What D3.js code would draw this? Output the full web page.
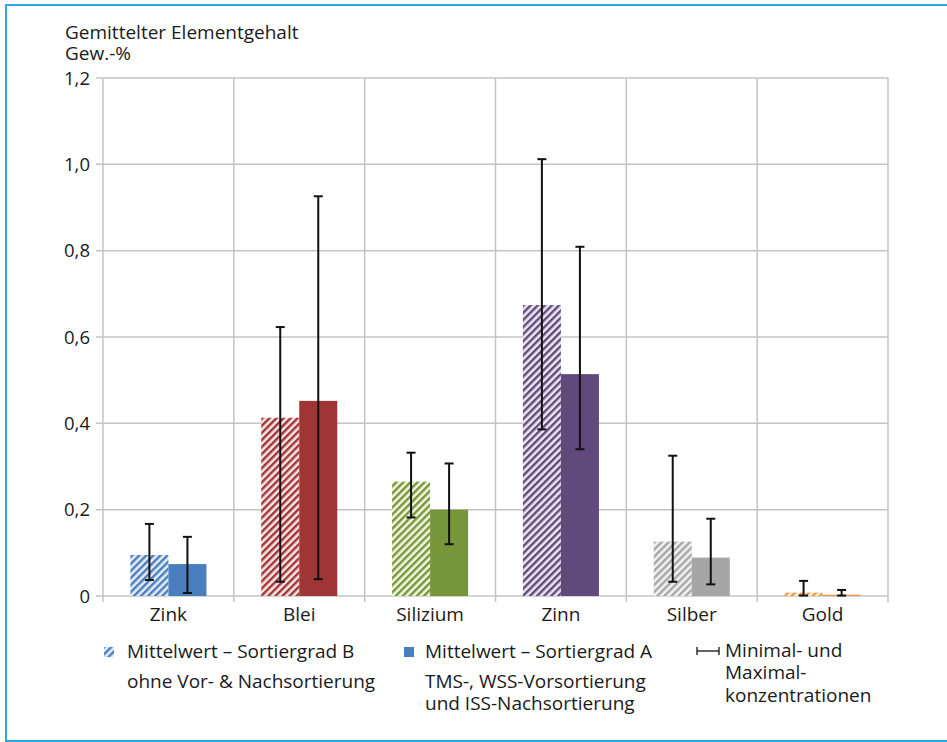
<!DOCTYPE html>
<html>
<head>
<meta charset="utf-8">
<script src="https://cdn.jsdelivr.net/npm/d3@7"></script>
<style>
  html, body { margin: 0; padding: 0; background: #fff; }
  svg { display: block; }
  text { font-family: "Open Sans", "Noto Sans", sans-serif; fill: #1a1a1a; }
</style>
</head>
<body>
<svg id="chart" width="947" height="742"></svg>
<script>
// ---- data ----
const categories = ["Zink", "Blei", "Silizium", "Zinn", "Silber", "Gold"];
const meanB = [0.095, 0.413, 0.265, 0.674, 0.126, 0.008];
const minB  = [0.037, 0.033, 0.182, 0.386, 0.033, 0.001];
const maxB  = [0.167, 0.623, 0.332, 1.012, 0.325, 0.035];
const meanA = [0.074, 0.452, 0.200, 0.514, 0.089, 0.003];
const minA  = [0.007, 0.039, 0.120, 0.340, 0.027, 0.001];
const maxA  = [0.137, 0.926, 0.307, 0.809, 0.179, 0.014];
const yTicks = [0, 0.2, 0.4, 0.6, 0.8, 1.0, 1.2];
const yTickLabels = ["0", "0,2", "0,4", "0,6", "0,8", "1,0", "1,2"];
const colors = ["#4a7ebf", "#a03535", "#77963a", "#604a7b", "#a6a6a6", "#e8994a"];
const hatchBg = ["#e4edf7", "#f7e4e4", "#f1f6e0", "#ebe6f1", "#f2f2f2", "#fcebd8"];

(function () {
const svg = d3.select("#chart");

// frame
svg.append("rect").attr("x", 6).attr("y", 5).attr("width", 960).attr("height", 736)
  .attr("fill", "none").attr("stroke", "#2aa9e0").attr("stroke-width", 2);

const pLeft = 103, pRight = 888, pTop = 78, pBottom = 596;
const x = d3.scaleBand().domain(categories).range([pLeft, pRight]).padding(0);
const sub = d3.scaleBand().domain(["B", "A"]).range([0, x.bandwidth()]).paddingInner(0).paddingOuter(0.72);
const y = d3.scaleLinear().domain([0, 1.2]).range([pBottom, pTop]);

// patterns
const defs = svg.append("defs");
colors.forEach((c, i) => {
  const p = defs.append("pattern").attr("id", "hatch" + i)
    .attr("patternUnits", "userSpaceOnUse").attr("width", 5).attr("height", 5)
    .attr("patternTransform", "rotate(45)");
  p.append("rect").attr("width", 5).attr("height", 5).attr("fill", hatchBg[i]);
  p.append("rect").attr("width", 2.4).attr("height", 5).attr("fill", c);
});

// grid
const grid = svg.append("g");
yTicks.forEach(t => {
  grid.append("line").attr("x1", pLeft - 7).attr("x2", pRight).attr("y1", y(t)).attr("y2", y(t))
    .attr("stroke", "#c4c4c4").attr("stroke-width", 1.5);
});
const bounds = categories.map(c => x(c)).concat([pRight]);
bounds.forEach(b => {
  grid.append("line").attr("x1", b).attr("x2", b).attr("y1", pTop).attr("y2", pBottom + 6)
    .attr("stroke", "#c4c4c4").attr("stroke-width", 1.5);
});

// y labels
svg.append("g").selectAll("text").data(yTicks).join("text")
  .attr("x", 90).attr("y", d => y(d)).attr("dy", "0.36em")
  .attr("text-anchor", "end").attr("font-size", 18.5)
  .text((d, i) => yTickLabels[i]);

// bars
const bars = svg.append("g");
categories.forEach((c, i) => {
  bars.append("rect").attr("x", x(c) + sub("B")).attr("y", y(meanB[i]))
    .attr("width", sub.bandwidth()).attr("height", y(0) - y(meanB[i]))
    .attr("fill", `url(#hatch${i})`);
  bars.append("rect").attr("x", x(c) + sub("A")).attr("y", y(meanA[i]))
    .attr("width", sub.bandwidth()).attr("height", y(0) - y(meanA[i]))
    .attr("fill", colors[i]);
});

// error bars
const err = svg.append("g").attr("stroke", "#111").attr("stroke-width", 2);
function errBar(cx, lo, hi) {
  err.append("line").attr("x1", cx).attr("x2", cx).attr("y1", y(lo)).attr("y2", y(hi));
  err.append("line").attr("x1", cx - 4.5).attr("x2", cx + 4.5).attr("y1", y(lo)).attr("y2", y(lo));
  err.append("line").attr("x1", cx - 4.5).attr("x2", cx + 4.5).attr("y1", y(hi)).attr("y2", y(hi));
}
categories.forEach((c, i) => {
  errBar(x(c) + sub("B") + sub.bandwidth() / 2, minB[i], maxB[i]);
  errBar(x(c) + sub("A") + sub.bandwidth() / 2, minA[i], maxA[i]);
});

// category labels
svg.append("g").selectAll("text").data(categories).join("text")
  .attr("x", d => x(d) + x.bandwidth() / 2).attr("y", 621)
  .attr("text-anchor", "middle").attr("font-size", 19).text(d => d);

// title
svg.append("text").attr("x", 65).attr("y", 39).attr("font-size", 19).text("Gemittelter Elementgehalt");
svg.append("text").attr("x", 65).attr("y", 60).attr("font-size", 19).text("Gew.-%");

// legend
const lg = svg.append("g").attr("font-size", 19);
lg.append("rect").attr("x", 104).attr("y", 647).attr("width", 10).attr("height", 10).attr("fill", "url(#hatch0)");
lg.append("text").attr("x", 127).attr("y", 658).text("Mittelwert – Sortiergrad B");
lg.append("text").attr("x", 127).attr("y", 688).text("ohne Vor- & Nachsortierung");

lg.append("rect").attr("x", 404).attr("y", 647).attr("width", 10).attr("height", 10).attr("fill", colors[0]);
lg.append("text").attr("x", 425).attr("y", 658).text("Mittelwert – Sortiergrad A");
lg.append("text").attr("x", 425).attr("y", 688).text("TMS-, WSS-Vorsortierung");
lg.append("text").attr("x", 425).attr("y", 710).text("und ISS-Nachsortierung");

const eg = lg.append("g").attr("stroke", "#111").attr("stroke-width", 1.3);
eg.append("line").attr("x1", 697).attr("x2", 719).attr("y1", 651).attr("y2", 651);
eg.append("line").attr("x1", 697).attr("x2", 697).attr("y1", 647).attr("y2", 655);
eg.append("line").attr("x1", 719).attr("x2", 719).attr("y1", 647).attr("y2", 655);
lg.append("text").attr("x", 725).attr("y", 657).text("Minimal- und");
lg.append("text").attr("x", 725).attr("y", 679).text("Maximal-");
lg.append("text").attr("x", 725).attr("y", 702).text("konzentrationen");
})();
</script>
</body>
</html>
